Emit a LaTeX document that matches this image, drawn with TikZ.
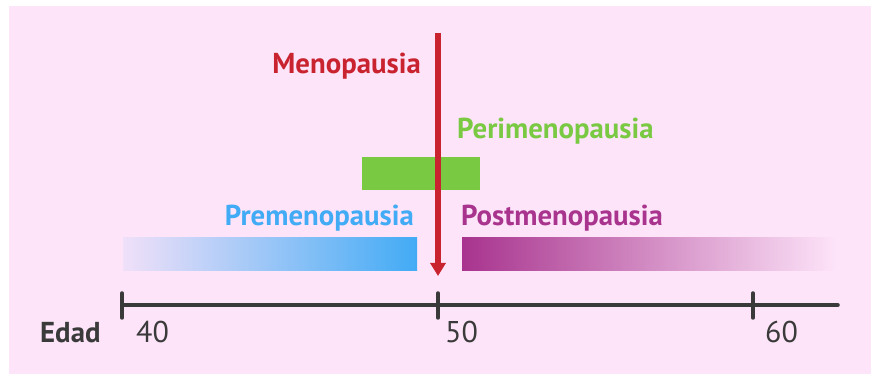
\documentclass[tikz,border=0pt]{standalone}
\usepackage{fontspec}
\setmainfont{PT Sans}
\usetikzlibrary{arrows.meta}
\definecolor{bgpink}{HTML}{FDE4F9}
\definecolor{mred}{HTML}{C8232F}
\definecolor{mgreen}{HTML}{7AC943}
\definecolor{mblue}{HTML}{42ABF5}
\definecolor{mpurple}{HTML}{A8348E}
\definecolor{mgray}{HTML}{3A3A3A}
\tikzset{
  lbl/.style={inner sep=0pt, font=\fontsize{28.8}{34}\selectfont\bfseries},
  num/.style={inner sep=0pt, font=\fontsize{30}{36}\selectfont, text=mgray},
  tick/.style={draw=mgray, line width=3.5pt, line cap=round},
}
\begin{document}
\begin{tikzpicture}[x=1pt,y=-1pt]
\useasboundingbox (0,0) rectangle (871,374);
\fill[white] (0,0) rectangle (871,374);
\fill[bgpink] (9,6) rectangle (871,374);
% bars
\shade[left color=bgpink!93!mblue, right color=mblue] (123,238) rectangle (417,271);
\shade[left color=mpurple, right color=bgpink] (462,238) rectangle (837,271);
\fill[mgreen] (362,157) rectangle (480,190);
% axis
\coordinate (a0) at (122,305);
\coordinate (a1) at (838,305);
\draw[tick] (a0) -- (a1);
\coordinate (t40a) at (122,293); \coordinate (t40b) at (122,318);
\coordinate (t50a) at (438,293); \coordinate (t50b) at (438,318);
\coordinate (t60a) at (753,293); \coordinate (t60b) at (753,318);
\draw[tick] (t40a) -- (t40b);
\draw[tick] (t50a) -- (t50b);
\draw[tick] (t60a) -- (t60b);
% arrow
\coordinate (mtop) at (438,33);
\coordinate (mtip) at (438,276);
\draw[draw=mred, line width=6pt, -{Triangle[width=15pt,length=13pt]}] (mtop) -- (mtip);
% labels
\node[lbl, text=mred, anchor=base east] (meno) at (421,74) {Menopausia};
\node[lbl, text=mgreen, anchor=base west] (peri) at (457,139) {Perimenopausia};
\node[lbl, text=mblue, anchor=base east] (pre) at (414,226) {Premenopausia};
\node[lbl, text=mpurple, anchor=base west] (post) at (461,226) {Postmenopausia};
\node[lbl, text=mgray, anchor=base west] (edad) at (40,342) {Edad};
\node[num, anchor=base west] (n40) at (136,342) {40};
\node[num, anchor=base west] (n50) at (445,342) {50};
\node[num, anchor=base west] (n60) at (765,342) {60};
\end{tikzpicture}
\end{document}
